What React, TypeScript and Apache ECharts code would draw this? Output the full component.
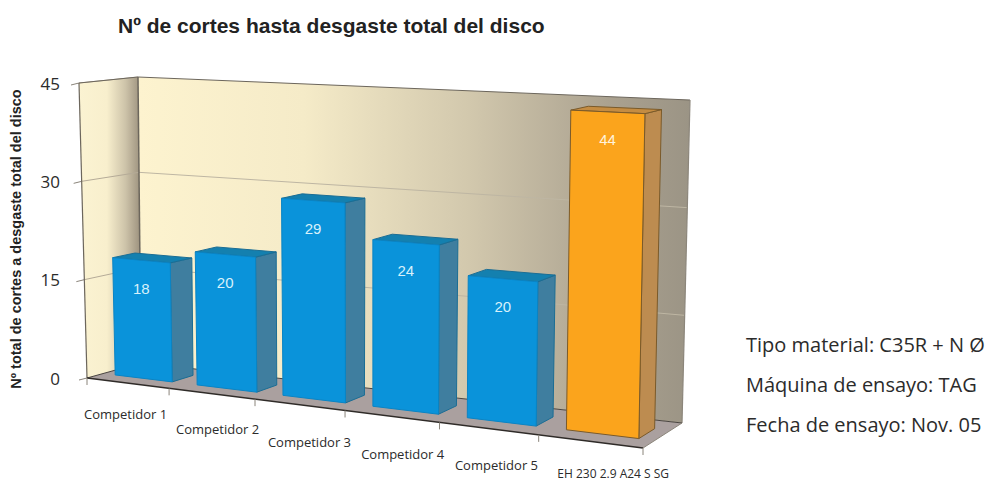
import React, { useEffect, useRef } from "react";
import * as echarts from "echarts";

const categories = ["Competidor 1", "Competidor 2", "Competidor 3", "Competidor 4", "Competidor 5", "EH 230 2.9 A24 S SG"];
const values = [18, 20, 29, 24, 20, 44];
const yTicks = [0, 15, 30, 45];
const notes = ["Tipo material: C35R + N Ø", "Máquina de ensayo: TAG", "Fecha de ensayo: Nov. 05"];
const titleText = "Nº de cortes hasta desgaste total del disco";
const yAxisTitle = "Nº total de cortes a desgaste total del disco";

// Box geometry of the 3D scene (pixels)
const FB0 = [87, 378], FB1 = [643, 448], BB0 = [141, 363], BB1 = [682, 423];
const FT0 = [79, 83], FT1 = [649, 110], BT0 = [138, 77], BT1 = [690, 100];
const PERSP = 0.866;
const D_FRONT = 0.3, D_BACK = 0.7, BAR_HALF = 0.35;
const labelNudge = [[-2, 31], [6, 35], [10, 37], [11, 38], [8, 36], [23, 32]];
const SANS = "'Open Sans', 'Noto Sans', sans-serif";
const ARIAL = "'Liberation Sans', Arial, sans-serif";

const mix = (a: number[], b: number[], k: number) => [a[0] + (b[0] - a[0]) * k, a[1] + (b[1] - a[1]) * k];
const warp = (u: number) => (PERSP * u) / (1 + (PERSP - 1) * u);
function P(u: number, v: number, d: number) {
  const t = warp(u);
  const bottom = mix(mix(FB0, FB1, t), mix(BB0, BB1, t), d);
  const top = mix(mix(FT0, FT1, t), mix(BT0, BT1, t), d);
  return mix(bottom, top, v);
}
const hGrad = (stops: [number, string][]) =>
  new echarts.graphic.LinearGradient(0, 0, 1, 0, stops.map(([offset, color]) => ({ offset, color })));

const line = (a: number[], b: number[], stroke: string, lineWidth = 1) => ({
  type: "line",
  shape: { x1: a[0], y1: a[1], x2: b[0], y2: b[1] },
  style: { stroke, lineWidth },
});
const poly = (points: number[][], fill: any, stroke?: string) => ({
  type: "polygon",
  shape: { points },
  style: { fill, stroke: stroke || "none", lineWidth: stroke ? 1 : 0 },
});

function renderScene(params: any, api: any) {
  const cs = params.coordSys;
  const vOf = (val: number) => (cs.y + cs.height - api.coord([0, val])[1]) / cs.height;
  const edgeColor = "#6c665c";
  const children: any[] = [
    poly([P(0, 0, 0), P(0, 1, 0), P(0, 1, 1), P(0, 0, 1)], hGrad([[0, "#FBF3D2"], [0.45, "#F8EFCD"], [0.75, "#CDC3A9"], [1, "#9A8F7C"]])),
    poly([P(0, 0, 1), P(0, 1, 1), P(1, 1, 1), P(1, 0, 1)], hGrad([[0, "#FDF3CF"], [0.3, "#F5EBC8"], [0.6, "#D2C8AD"], [0.85, "#ABA290"], [1, "#9B9485"]])),
    poly([P(0, 0, 0), P(1, 0, 0), P(1, 0, 1), P(0, 0, 1)], "#AAA09F"),
  ];
  yTicks.forEach((val) => {
    const v = vOf(val);
    if (val > 0) {
      children.push(line(P(0, v, 0), P(0, v, 1), "#B5AB98"));
      children.push(line(P(0, v, 1), P(1, v, 1), val === 45 ? edgeColor : "#BEB6A3"));
    }
    const a = P(0, v, 0);
    children.push(line(a, [a[0] - 8, a[1] + 2], "#8a847a", 1));
  });
  children.push(line(P(0, 1, 0), P(0, 1, 1), edgeColor));
  children.push(line(P(0, 0, 0), P(0, 1, 0), edgeColor, 1.2));
  children.push(line(P(0, 0, 1), P(0, 1, 1), edgeColor, 1.5));
  children.push(line(P(1, 0, 1), P(1, 1, 1), "#8c867b", 1.2));
  children.push(line(P(0, 0, 0), P(0, 0, 1), "#4a4540"));
  children.push(line(P(0, 0, 1), P(1, 0, 1), "#4a4540"));
  children.push(line(P(1, 0, 0), P(1, 0, 1), "#8c867b"));
  children.push(line(P(0, 0, 0), P(1, 0, 0), "#2f2b28", 1.4));
  for (let i = 0; i <= categories.length; i++) {
    const x = i < categories.length ? api.coord([i, 0])[0] - api.size([1, 0])[0] / 2 : cs.x + cs.width;
    const a = P((x - cs.x) / cs.width, 0, 0);
    children.push(line(a, [a[0], a[1] + 7], "#8a847a"));
  }
  categories.forEach((name, i) => {
    const u = (api.coord([i, 0])[0] - cs.x) / cs.width;
    const a = P(u, 0, 0);
    children.push({
      type: "text",
      x: a[0] + labelNudge[i][0],
      y: a[1] + labelNudge[i][1],
      style: { text: name, fill: "#2b2b2b", fontSize: i === 5 ? 12 : 13, fontFamily: SANS, align: "center", verticalAlign: "middle" },
    });
  });
  return { type: "group", children };
}

function renderBar(params: any, api: any) {
  const cs = params.coordSys;
  const i = api.value(0);
  const val = api.value(1);
  const [cx, cy] = api.coord([i, val]);
  const half = (api.size([1, 0])[0] * BAR_HALF) / cs.width;
  const u = (cx - cs.x) / cs.width;
  const v = (cs.y + cs.height - cy) / cs.height;
  const l = u - half, r = u + half;
  const hero = i === categories.length - 1;
  const front = hero ? "#FBA41C" : "#0A93DA";
  const side = hero ? "#BD8C50" : "#3F7E9F";
  const top = hero ? "#C48C42" : "#1480AF";
  const outline = hero ? "#7a5a2a" : "#1b6d94";
  const labelPos = P(u, v, D_FRONT);
  return {
    type: "group",
    children: [
      poly([P(r, 0, D_FRONT), P(r, v, D_FRONT), P(r, v, D_BACK), P(r, 0, D_BACK)], side, outline),
      poly([P(l, v, D_FRONT), P(r, v, D_FRONT), P(r, v, D_BACK), P(l, v, D_BACK)], top, outline),
      poly([P(l, 0, D_FRONT), P(r, 0, D_FRONT), P(r, v, D_FRONT), P(l, v, D_FRONT)], front, hero ? outline : "#0A84C4"),
      {
        type: "text",
        x: labelPos[0],
        y: labelPos[1] + 28,
        style: {
          text: String(val),
          fill: hero ? "#FFF3DC" : "#D8F1FB",
          fontSize: 15,
          fontFamily: ARIAL,
          align: "center",
          verticalAlign: "middle",
        },
      },
    ],
  };
}

export default function App() {
  const ref = useRef<HTMLDivElement>(null);
  useEffect(() => {
    const chart = echarts.init(ref.current!, undefined, { renderer: "svg" });
    chart.setOption({
      animation: false,
      backgroundColor: "#ffffff",
      title: {
        text: titleText,
        left: 118,
        top: 15,
        padding: 0,
        textStyle: { fontFamily: ARIAL, fontWeight: "bold", fontSize: 21, color: "#222222" },
      },
      grid: { left: 87, top: 83, width: 556, height: 295 },
      xAxis: {
        type: "category",
        data: categories,
        axisLine: { show: false },
        axisTick: { show: false },
        axisLabel: { show: false },
      },
      yAxis: {
        type: "value",
        min: 0,
        max: 45,
        interval: 15,
        axisLine: { show: false },
        axisTick: { show: false },
        splitLine: { show: false },
        axisLabel: { margin: 27, fontSize: 17, color: "#2b2b2b", fontFamily: SANS },
      },
      series: [
        { type: "custom", clip: false, silent: true, renderItem: renderScene, data: [[0, 0]], encode: { x: 0, y: 1 }, z: 1 },
        { type: "custom", clip: false, renderItem: renderBar, data: values.map((v, i) => [i, v]), encode: { x: 0, y: 1 }, z: 2 },
      ],
      graphic: [
        {
          type: "text",
          x: 16,
          y: 239,
          rotation: Math.PI / 2,
          style: { text: yAxisTitle, fill: "#222222", fontSize: 14.5, fontWeight: "bold", fontFamily: ARIAL, align: "center", verticalAlign: "middle" },
        },
        ...notes.map((text, i) => ({
          type: "text",
          x: 746,
          y: 344 + i * 40,
          style: { text, fill: "#2b2b2b", fontSize: 20, fontFamily: SANS, align: "left", verticalAlign: "middle" },
        })),
      ],
    });
    return () => chart.dispose();
  }, []);
  return <div ref={ref} style={{ position: "absolute", left: 0, top: 0, width: 1001, height: 481 }} />;
}
